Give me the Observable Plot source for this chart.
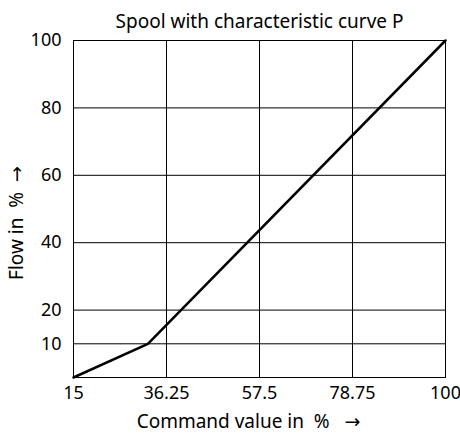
<!DOCTYPE html>
<html>
<head>
<meta charset="utf-8">
<script src="https://cdn.jsdelivr.net/npm/d3@7"></script>
<script src="https://cdn.jsdelivr.net/npm/@observablehq/plot@0.6"></script>
<style>
  body { margin: 0; background: #fff; overflow: hidden; }
  svg { font-family: "Source Sans Pro", "Noto Sans", sans-serif; display: block; }
  .arrow { font-family: "DejaVu Sans", sans-serif; }
</style>
</head>
<body>
<div id="chart"></div>
<script>
const title = "Spool with characteristic curve P";
const xLabel = "Command value in  %   →";
const yLabel = "Flow in  %  →";
const xTicks = [15, 36.25, 57.5, 78.75, 100];
const yTicks = [10, 20, 40, 60, 80, 100];
const commandValue = [15, 32, 100];
const flow = [0, 10, 100];

const data = commandValue.map((x, i) => ({x, y: flow[i]}));

const chart = Plot.plot({
  width: 460,
  height: 434,
  marginLeft: 73,
  marginRight: 15,
  marginTop: 40,
  marginBottom: 57,
  style: {fontSize: "18px", color: "#000", background: "#fff"},
  x: {domain: [15, 100], ticks: xTicks, tickFormat: d => String(d), tickSize: 0, tickPadding: 9, label: null},
  y: {domain: [0, 100], ticks: yTicks, tickFormat: d => String(d), tickSize: 0, tickPadding: 12, label: null},
  marks: [
    Plot.gridX(xTicks, {stroke: "#000", strokeOpacity: 1, strokeWidth: 1}),
    Plot.gridY(yTicks, {stroke: "#000", strokeOpacity: 1, strokeWidth: 1}),
    Plot.frame({stroke: "#000", strokeWidth: 1}),
    Plot.line(data, {x: "x", y: "y", stroke: "#000", strokeWidth: 2.5}),
    Plot.text([title], {frameAnchor: "top", dy: -26, text: d => d, fontSize: 19, fill: "#000"}),
    Plot.text([xLabel], {frameAnchor: "bottom", dy: 44, dx: -11, lineAnchor: "middle", textAnchor: "middle", text: d => d, fontSize: 19, fill: "#000", className: "axis-label"}),
    Plot.text([yLabel], {frameAnchor: "left", dx: -57, dy: 14, rotate: -90, lineAnchor: "middle", textAnchor: "middle", text: d => d, fontSize: 19, fill: "#000", className: "axis-label"})
  ]
});
// render the arrow glyph in a font with a long-shafted arrow
chart.querySelectorAll(".axis-label text").forEach(t => {
  const s = t.textContent;
  const i = s.indexOf("→");
  if (i < 0) return;
  t.textContent = "";
  const a = document.createElementNS("http://www.w3.org/2000/svg", "tspan");
  a.textContent = s.slice(0, i);
  const b = document.createElementNS("http://www.w3.org/2000/svg", "tspan");
  b.textContent = "→";
  b.setAttribute("class", "arrow");
  t.appendChild(a); t.appendChild(b);
});
document.getElementById("chart").appendChild(chart);
</script>
</body>
</html>
